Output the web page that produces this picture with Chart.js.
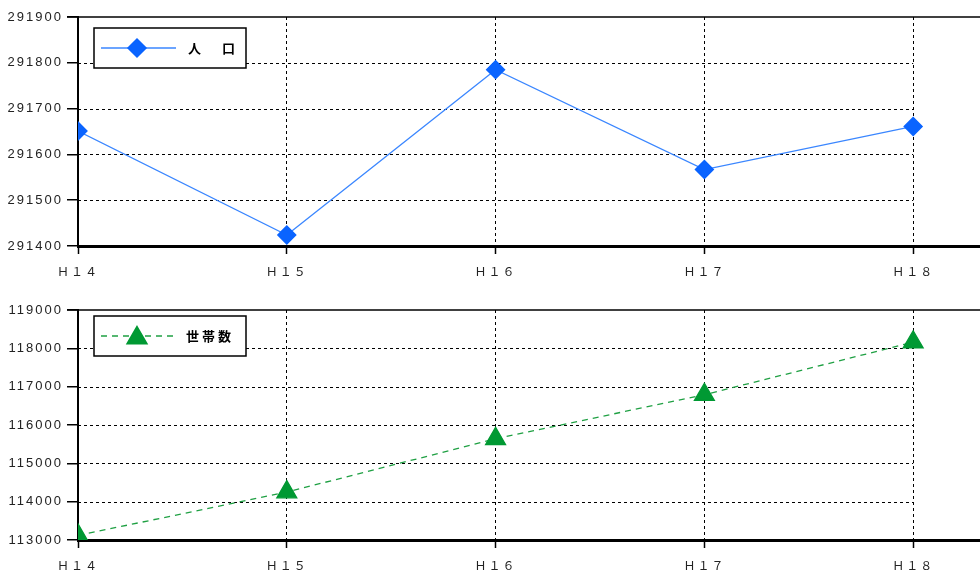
<!doctype html>
<html lang="ja">
<head>
<meta charset="utf-8">
<title>人口・世帯数</title>
<script src="https://cdn.jsdelivr.net/npm/chart.js@4.4.1/dist/chart.umd.min.js"></script>
<style>
    body { margin: 0; background: #fff; }
    #wrap { position: relative; width: 980px; height: 573px; }
    canvas { position: absolute; left: 0; }
</style>
</head>
<body>
<div id="wrap">
    <canvas id="chartPop" width="980" height="290" style="top:0"></canvas>
    <canvas id="chartHh" width="980" height="283" style="top:290px"></canvas>
</div>

<script>
    const years = ['Ｈ１４', 'Ｈ１５', 'Ｈ１６', 'Ｈ１７', 'Ｈ１８'];
    const population = [291651, 291424, 291785, 291567, 291661];
    const households = [113120, 114250, 115640, 116790, 118160];
    const popAxis = [291400, 291900, 100];
    const hhAxis = [113000, 119000, 1000];

    // letter spacing for the old-style bitmap look
    const spacing = {
        id: 'spacing',
        beforeUpdate(chart) { chart.ctx.letterSpacing = '2px'; },
        beforeDraw(chart) { chart.ctx.letterSpacing = '2px'; },
    };

    // dashed horizontal grid stopping at the last category, plus top frame line
    const frame = {
        id: 'frame',
        beforeDatasetsDraw(chart) {
            const ctx = chart.ctx, x = chart.scales.x, y = chart.scales.y;
            const x0 = x.getPixelForValue(0), x1 = x.getPixelForValue(years.length - 1);
            ctx.save();
            ctx.strokeStyle = '#000';
            ctx.lineWidth = 1;
            ctx.setLineDash([3, 3]);
            y.ticks.forEach(t => {
                if (t.value === y.min || t.value === y.max) return;
                const py = Math.round(y.getPixelForValue(t.value)) + 0.5;
                ctx.beginPath();
                ctx.moveTo(x0, py);
                ctx.lineTo(x1, py);
                ctx.stroke();
            });
            ctx.setLineDash([]);
            ctx.lineWidth = 1.5;
            const top = y.getPixelForValue(y.max);
            ctx.beginPath();
            ctx.moveTo(x0 - 11, top);
            ctx.lineTo(chart.width, top);
            ctx.stroke();
            ctx.restore();
        },
        afterDraw(chart, args, opts) {
            const ctx = chart.ctx;
            const ds = chart.data.datasets[0];
            ctx.save();
            ctx.letterSpacing = opts.spacing;
            ctx.strokeStyle = '#000';
            ctx.lineWidth = 1.5;
            ctx.fillStyle = '#fff';
            ctx.fillRect(94, opts.top, 152, 40);
            ctx.strokeRect(94, opts.top, 152, 40);
            const my = opts.top + 20;
            ctx.strokeStyle = ds.borderColor;
            ctx.lineWidth = opts.lineWidth;
            ctx.setLineDash(ds.borderDash || []);
            ctx.beginPath();
            ctx.moveTo(101, my);
            ctx.lineTo(176, my);
            ctx.stroke();
            ctx.setLineDash([]);
            ctx.fillStyle = ds.pointBackgroundColor;
            ctx.strokeStyle = ds.pointBorderColor;
            Chart.helpers.drawPoint(ctx, {pointStyle: ds.pointStyle, radius: ds.pointRadius, borderWidth: 1, rotation: 0}, 137, my + opts.markerDy);
            ctx.fillStyle = '#000';
            ctx.font = "bold 13px 'Noto Sans CJK JP'";
            ctx.textBaseline = 'middle';
            ctx.fillText(ds.label, opts.textX, my);
            ctx.restore();
        },
    };

    function makeChart(id, values, axis, ds, padTop, axisHeight, legendOpts) {
        return new Chart(document.getElementById(id), {
            type: 'line',
            data: {
                datasets: [Object.assign({
                    data: values.map((v, i) => ({x: i, y: v})),
                    tension: 0,
                    fill: false,
                }, ds)],
            },
            options: {
                responsive: false,
                animation: false,
                layout: {autoPadding: false, padding: {top: padTop, left: 0, right: 0, bottom: 0}},
                plugins: {
                    legend: {display: false},
                    tooltip: {enabled: false},
                    frame: legendOpts,
                },
                scales: {
                    x: {
                        type: 'linear',
                        min: 0,
                        max: 4.32,
                        afterBuildTicks: s => { s.ticks = years.map((_, i) => ({value: i})); },
                        afterFit: s => {
                            s.height = axisHeight;
                            s.paddingLeft = 0;
                            s.paddingRight = 0;
                        },
                        ticks: {
                            callback: v => years[v],
                            autoSkip: false,
                            maxRotation: 0,
                            padding: 10,
                            color: '#222',
                            font: {family: "'Noto Sans CJK JP'", size: 12},
                        },
                        grid: {color: '#000', lineWidth: 1, tickLength: 8, tickColor: '#000', tickWidth: 1.5},
                        border: {color: '#000', width: 3, dash: [3, 3]},
                    },
                    y: {
                        min: axis[0],
                        max: axis[1],
                        afterFit: s => { s.width = 78; },
                        ticks: {
                            stepSize: axis[2],
                            callback: v => String(v),
                            padding: 4,
                            color: '#222',
                            font: {family: "'Liberation Sans'", size: 13},
                        },
                        grid: {drawOnChartArea: false, tickLength: 11, color: '#000', lineWidth: 1.5},
                        border: {color: '#000', width: 2},
                    },
                },
            },
            plugins: [spacing, frame],
        });
    }

    makeChart('chartPop', population, popAxis, {
        label: '人　口',
        borderColor: '#3a86ff',
        borderWidth: 1.3,
        pointStyle: 'rectRot',
        pointRadius: 9,
        pointBackgroundColor: '#0a64ff',
        pointBorderColor: '#0a64ff',
    }, 17, 44, {top: 28, lineWidth: 1.5, markerDy: 0, textX: 188, spacing: '4px'});

    makeChart('chartHh', households, hhAxis, {
        label: '世帯数',
        borderColor: '#1fa043',
        borderWidth: 1.3,
        borderDash: [6, 5],
        pointStyle: 'triangle',
        pointRadius: 11.5,
        pointBackgroundColor: '#009933',
        pointBorderColor: '#009933',
    }, 20, 33, {top: 26, lineWidth: 1.5, markerDy: 2, textX: 186, spacing: '3px'});
</script>
</body>
</html>
